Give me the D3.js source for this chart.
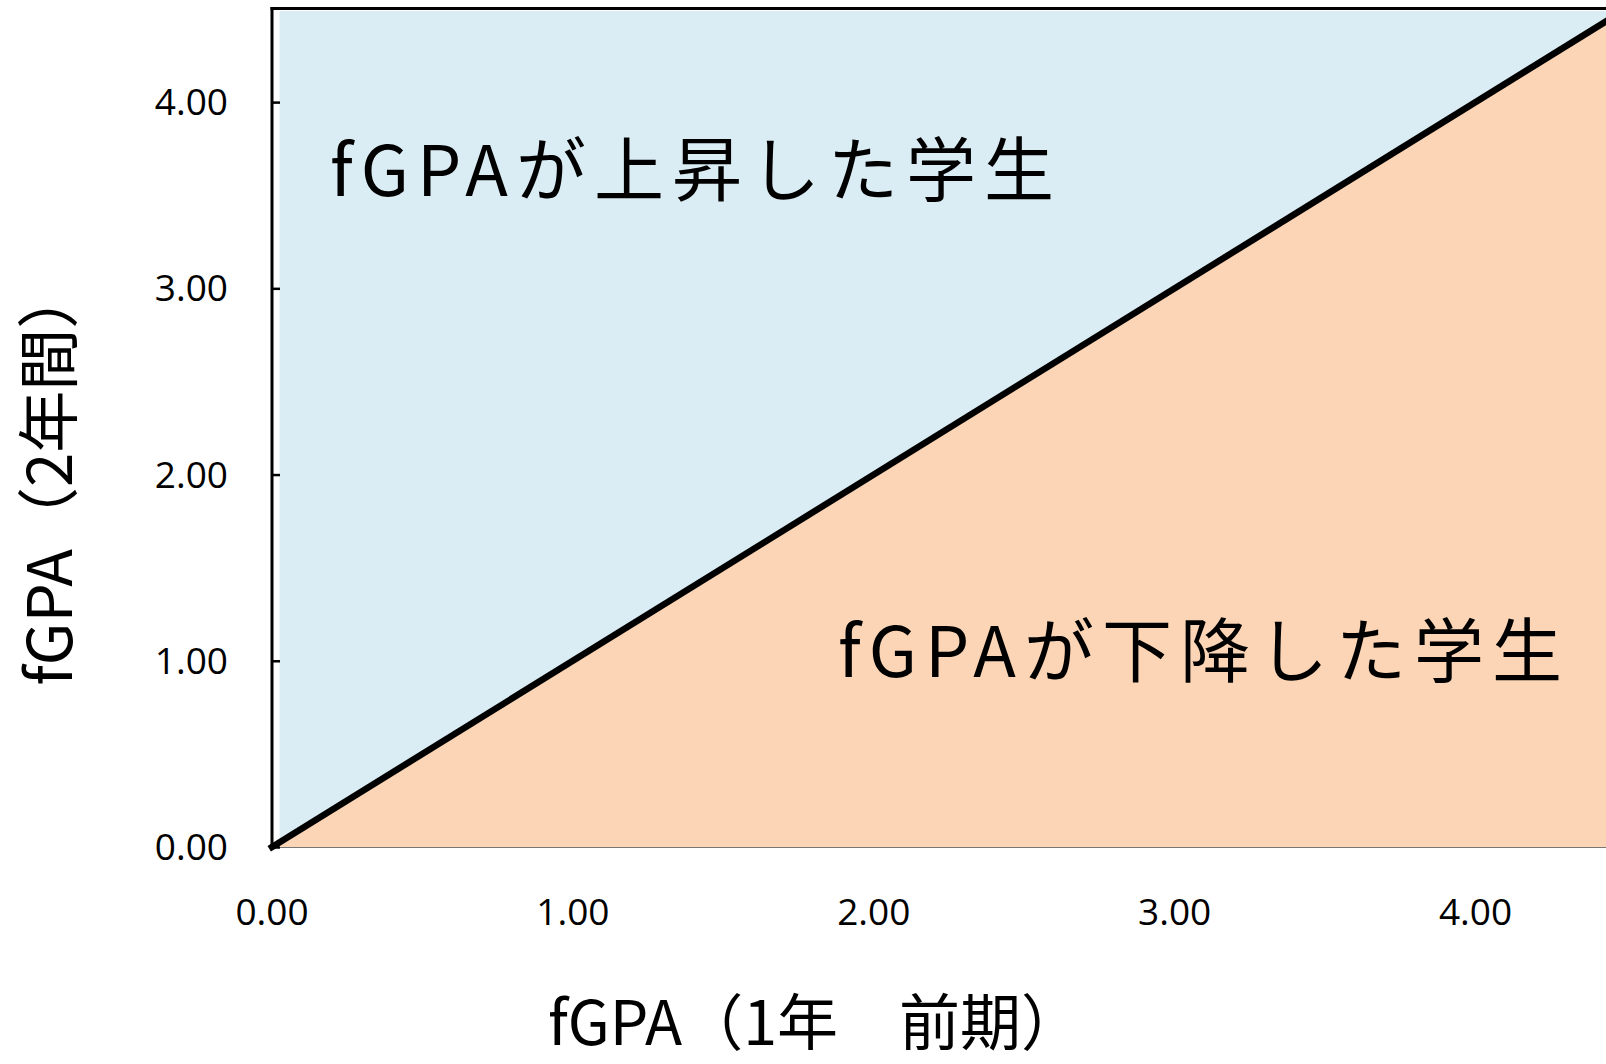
<!DOCTYPE html>
<html>
<head>
<meta charset="utf-8">
<script src="https://cdn.jsdelivr.net/npm/d3@7"></script>
<style>
  html, body { margin: 0; padding: 0; background: #fff; }
  svg { display: block; }
</style>
</head>
<body>
<div id="chart"></div>
<script>
// axis ticks
var xTicks = [0, 1, 2, 3, 4];
var yTicks = [0, 1, 2, 3, 4];
// boundary line y = x
var lineX = [0, 4.5];
var lineY = [0, 4.5];
// regions (upper = rose, lower = fell)
var upperX = [0.025, 4.5];
var lowerX = [0, 4.5];
var upperLabel = 'fGPAが上昇した学生';
var lowerLabel = 'fGPAが下降した学生';
var xTitle = 'fGPA（1年　前期）';
var yTitle = 'fGPA（2年間）';

var W = 1606, H = 1064;
var x = d3.scaleLinear().domain([0, 4.5]).range([272, 1626]);
var y = d3.scaleLinear().domain([0, 4.5]).range([847, 9]);

var svg = d3.select('#chart').append('svg')
    .attr('width', W)
    .attr('height', H);

// blue area above the line
svg.append('path')
    .datum(upperX)
    .attr('fill', '#dbedf4')
    .attr('d', d3.area()
        .x(function(d) { return x(d); })
        .y0(function(d) { return y(d); })
        .y1(y(4.5) + 2));

// orange area below the line
svg.append('path')
    .datum(lowerX)
    .attr('fill', '#fbd5b5')
    .attr('d', d3.area()
        .x(function(d) { return x(d); })
        .y0(y(0))
        .y1(function(d) { return y(d); }));

// thin bottom edge
svg.append('line')
    .attr('x1', x(0)).attr('x2', W)
    .attr('y1', y(0) + 0.5).attr('y2', y(0) + 0.5)
    .attr('stroke', '#777').attr('stroke-width', 1.2);

// top border
svg.append('line')
    .attr('x1', x(0) - 1.5).attr('x2', W)
    .attr('y1', 8.5).attr('y2', 8.5)
    .attr('stroke', '#000').attr('stroke-width', 3);

// y axis, ticks pointing inward
var yAxis = svg.append('g')
    .attr('transform', 'translate(' + x(0) + ',0)')
    .call(d3.axisRight(y).tickValues(yTicks).tickSize(8).tickFormat(''));
yAxis.select('.domain').remove();
yAxis.selectAll('.tick line').attr('stroke', '#000').attr('stroke-width', 2.5);
svg.append('line')
    .attr('x1', x(0)).attr('x2', x(0))
    .attr('y1', 7).attr('y2', y(0) + 1)
    .attr('stroke', '#000').attr('stroke-width', 3);

// y tick labels
svg.append('g').selectAll('text')
    .data(yTicks)
    .enter().append('text')
    .attr('x', 228)
    .attr('y', function(d) { return y(d); })
    .attr('dy', '0.35em')
    .attr('text-anchor', 'end')
    .attr('font-family', '"Open Sans", sans-serif')
    .attr('font-size', 37)
    .attr('fill', '#000')
    .text(function(d) { return d.toFixed(2); });

// x tick labels
svg.append('g').selectAll('text')
    .data(xTicks)
    .enter().append('text')
    .attr('x', function(d) { return x(d); })
    .attr('y', 925)
    .attr('text-anchor', 'middle')
    .attr('font-family', '"Open Sans", sans-serif')
    .attr('font-size', 37)
    .attr('fill', '#000')
    .text(function(d) { return d.toFixed(2); });

// diagonal line y = x
svg.append('path')
    .datum(d3.zip(lineX, lineY))
    .attr('fill', 'none')
    .attr('stroke', '#000')
    .attr('stroke-width', 6.5)
    .attr('stroke-linecap', 'square')
    .attr('d', d3.line()
        .x(function(d) { return x(d[0]); })
        .y(function(d) { return y(d[1]); }));

// region labels
svg.append('text')
    .attr('x', 330).attr('y', 196)
    .attr('font-family', '"Noto Sans CJK JP", sans-serif')
    .attr('font-size', 70)
    .attr('letter-spacing', 8)
    .attr('fill', '#000')
    .text(upperLabel);

svg.append('text')
    .attr('x', 838).attr('y', 677)
    .attr('font-family', '"Noto Sans CJK JP", sans-serif')
    .attr('font-size', 70)
    .attr('letter-spacing', 8)
    .attr('fill', '#000')
    .text(lowerLabel);

// axis titles
svg.append('text')
    .attr('x', 815).attr('y', 1045)
    .attr('text-anchor', 'middle')
    .attr('font-family', '"Noto Sans CJK JP", sans-serif')
    .attr('font-size', 61)
    .attr('fill', '#000')
    .text(xTitle);

svg.append('text')
    .attr('transform', 'translate(72,476) rotate(-90)')
    .attr('text-anchor', 'middle')
    .attr('font-family', '"Noto Sans CJK JP", sans-serif')
    .attr('font-size', 62)
    .attr('fill', '#000')
    .text(yTitle);
</script>
</body>
</html>
